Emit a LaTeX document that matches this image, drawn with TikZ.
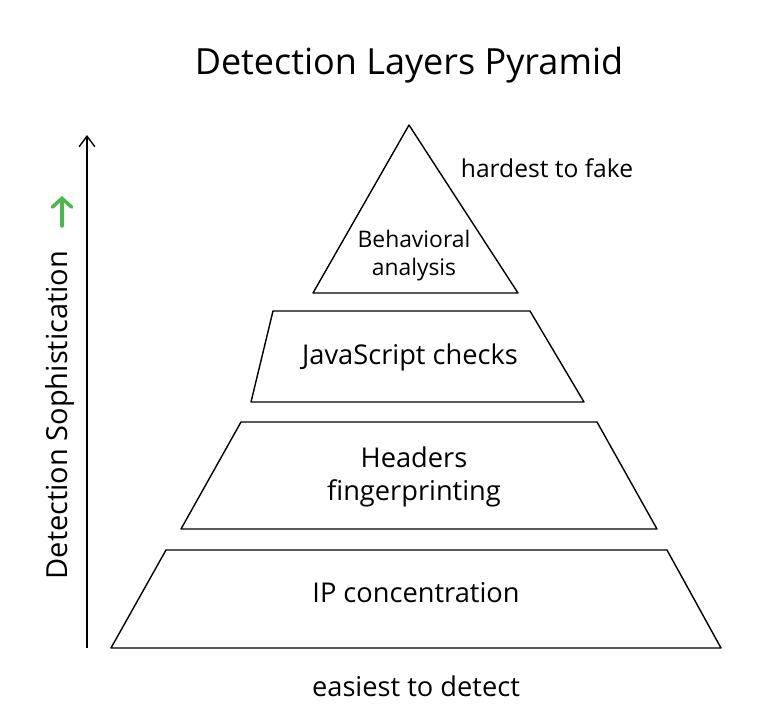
\documentclass[tikz,border=0pt]{standalone}
\usepackage{fontspec}
\setmainfont{Open Sans}
\usetikzlibrary{arrows.meta}
\begin{document}
\begin{tikzpicture}[x=0.02cm,y=-0.02cm]
\tikzstyle{layer}=[draw,thick,line join=round]
\tikzstyle{label}=[font=\fontsize{15.5}{19}\selectfont,align=center]
\useasboundingbox (0,0) rectangle (762,724);
\node[font=\fontsize{20.5}{24}\selectfont] (title) at (409,65) {Detection Layers Pyramid};
% layers
\draw[layer] (409,125) -- (518,293) -- (313,293) -- cycle;
\draw[layer] (273,311) -- (530,311) -- (584,402) -- (251,402) -- cycle;
\draw[layer] (241,422) -- (597,422) -- (657,529) -- (181,529) -- cycle;
\draw[layer] (166,550) -- (667,550) -- (721,648) -- (111,648) -- cycle;
\node[label,font=\fontsize{13}{16}\selectfont] (behav) at (414,256) {Behavioral\\analysis};
\node[label] (js) at (410,357) {JavaScript checks};
\node[label] (head) at (414,477) {Headers\\fingerprinting};
\node[label] (ip) at (416,593) {IP concentration};
\node[label,font=\fontsize{14}{17}\selectfont] (hard) at (547,168) {hardest to fake};
\node[label] (easy) at (416,686) {easiest to detect};
% axis
\coordinate (axb) at (87,648);
\coordinate (axt) at (87,135);
\draw[thick,-{Straight Barb[length=6pt,width=9pt]}] (axb) -- (axt);
\node[label,rotate=90,font=\fontsize{16.5}{20}\selectfont] (axis) at (60,415) {Detection Sophistication};
\coordinate (gb) at (62,226);
\coordinate (gt) at (62,196);
\draw[line width=2pt,green!60!black!70,line cap=round,-{Straight Barb[length=5pt,width=11pt,line cap=round]}] (gb) -- (gt);
\end{tikzpicture}
\end{document}
